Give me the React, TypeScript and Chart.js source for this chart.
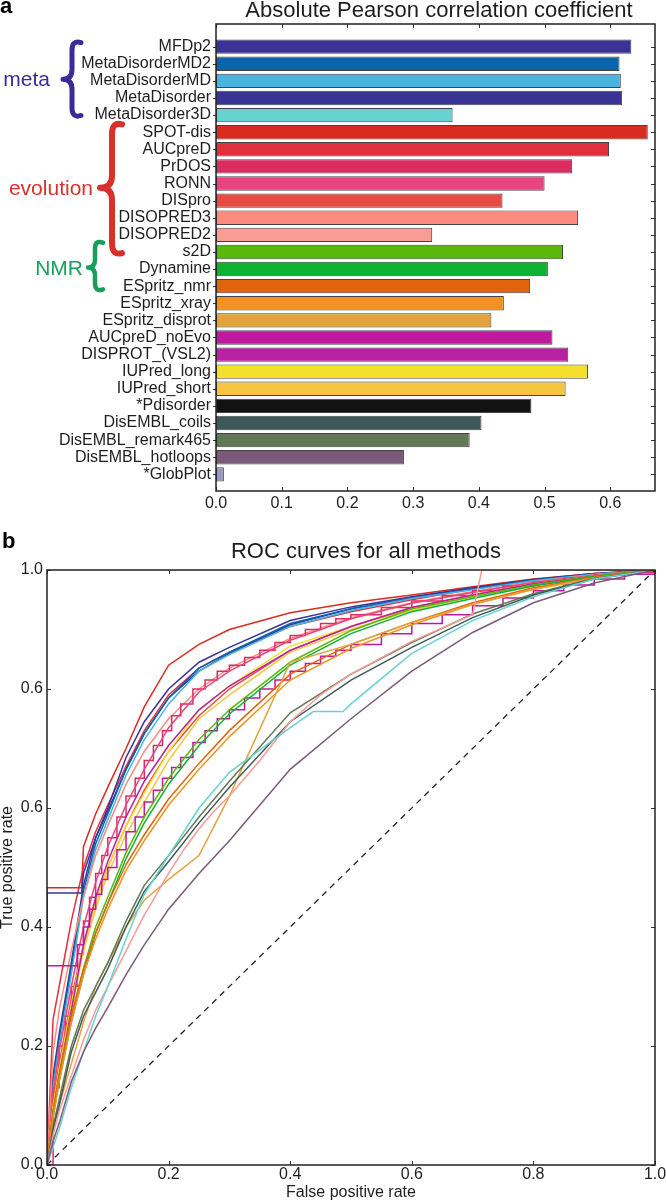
import React, { useEffect, useRef } from "react";
import { Chart, registerables } from "chart.js";

Chart.register(...registerables);

const FONT = "'Liberation Sans', Arial, Helvetica, sans-serif";
const TEXT = "#1e1e1e";

// ---------- Panel a: absolute Pearson correlation ----------
const methods = [
  "MFDp2", "MetaDisorderMD2", "MetaDisorderMD", "MetaDisorder", "MetaDisorder3D",
  "SPOT-dis", "AUCpreD", "PrDOS", "RONN", "DISpro", "DISOPRED3", "DISOPRED2",
  "s2D", "Dynamine", "ESpritz_nmr", "ESpritz_xray", "ESpritz_disprot",
  "AUCpreD_noEvo", "DISPROT_(VSL2)", "IUPred_long", "IUPred_short", "*Pdisorder",
  "DisEMBL_coils", "DisEMBL_remark465", "DisEMBL_hotloops", "*GlobPlot",
];
const pearson = [
  0.632, 0.614, 0.616, 0.618, 0.36, 0.657, 0.598, 0.542, 0.5, 0.436, 0.551, 0.329,
  0.528, 0.505, 0.478, 0.438, 0.419, 0.512, 0.536, 0.566, 0.532, 0.48, 0.404, 0.386,
  0.286, 0.012,
];
const methodColors = [
  "#3a3296", "#0a64ac", "#48b4e0", "#3a3396", "#68d2d0", "#d92b20", "#e0303c",
  "#db2c62", "#e6457e", "#e64c42", "#fd8b80", "#f89c96", "#5ab80c", "#0eb232",
  "#e2640e", "#f29220", "#e2a43a", "#c0189e", "#b821a0", "#f4e02c", "#f6c640",
  "#121212", "#3e5a58", "#627856", "#7a5a78", "#9898c0",
];
const pearsonTicks = [0, 0.1, 0.2, 0.3, 0.4, 0.5, 0.6];

// group annotations (in category units)
const groupNames = ["meta", "evolution", "NMR"];
const groupColors = ["#3a2b98", "#d8302a", "#17a05c"];
const groupFrom = [-0.35, 4.43, 11.34];
const groupTip = [1.9, 8.25, 12.91];
const groupTo = [4.14, 12.18, 14.3];

// ---------- Panel b: ROC curves ----------
const rocGrid = [0, 0.01, 0.02, 0.04, 0.06, 0.08, 0.1, 0.13, 0.16, 0.2, 0.25, 0.3, 0.4, 0.5, 0.6, 0.7, 0.8, 0.9, 1];
const rocStepGrid = [0, 0.01, 0.02, 0.03, 0.04, 0.05, 0.06, 0.07, 0.08, 0.09, 0.1, 0.115, 0.13, 0.145, 0.16, 0.175, 0.19, 0.205, 0.22, 0.24, 0.26, 0.28, 0.3, 0.325, 0.35, 0.375, 0.4, 0.425, 0.45, 0.475, 0.5, 0.55, 0.6, 0.65, 0.7, 0.75, 0.8, 0.85, 0.9, 0.95, 1];
const fprJump = [0, 0, 0.057, 0.06, 0.08, 0.1, 0.13, 0.16, 0.2, 0.25, 0.3, 0.4, 0.5, 0.6, 0.7, 0.8, 0.9, 1];

const tprSPOTdis = [0, 0.466, 0.466, 0.535, 0.59, 0.635, 0.7, 0.77, 0.84, 0.875, 0.9, 0.928, 0.945, 0.958, 0.972, 0.985, 0.994, 1];
const tprMetaDisorder = [0, 0.457, 0.457, 0.49, 0.55, 0.595, 0.665, 0.725, 0.785, 0.83, 0.86, 0.908, 0.935, 0.953, 0.968, 0.983, 0.993, 1];
const tprAUCpreD = [0, 0.245, 0.3, 0.41, 0.5, 0.56, 0.605, 0.67, 0.73, 0.79, 0.835, 0.862, 0.905, 0.93, 0.95, 0.968, 0.982, 0.993, 1];
const tprMFDp2 = [0, 0.15, 0.22, 0.34, 0.47, 0.55, 0.6, 0.685, 0.745, 0.8, 0.845, 0.87, 0.915, 0.938, 0.955, 0.97, 0.984, 0.994, 1];
const tprMD2 = [0, 0.14, 0.21, 0.33, 0.46, 0.54, 0.59, 0.665, 0.725, 0.785, 0.835, 0.862, 0.91, 0.935, 0.953, 0.968, 0.983, 0.993, 1];
const tprMD = [0, 0.13, 0.2, 0.32, 0.45, 0.53, 0.58, 0.655, 0.715, 0.775, 0.83, 0.858, 0.905, 0.932, 0.952, 0.967, 0.982, 0.993, 1];
const tprRONN = [0, 0.12, 0.19, 0.3, 0.4, 0.475, 0.535, 0.605, 0.665, 0.735, 0.795, 0.83, 0.882, 0.918, 0.944, 0.962, 0.979, 0.991, 1];
const tprDISOPRED3 = [0, 0.19, 0.26, 0.36, 0.45, 0.52, 0.57, 0.64, 0.695, 0.75, 0.8, 0.835, 0.885, 0.92, 0.945, 0.964, 0.98, 0.992, 1];
const tprDISpro = [0, 0.11, 0.17, 0.28, 0.37, 0.44, 0.5, 0.57, 0.63, 0.695, 0.755, 0.8, 0.865, 0.905, 0.937, 0.958, 0.977, 0.99, 1];
const tprIUPredLong = [0, 0.1, 0.16, 0.27, 0.37, 0.44, 0.5, 0.57, 0.625, 0.695, 0.765, 0.805, 0.872, 0.905, 0.935, 0.958, 0.977, 0.99, 1];
const tprIUPredShort = [0, 0.09, 0.15, 0.26, 0.36, 0.43, 0.49, 0.555, 0.61, 0.68, 0.75, 0.79, 0.862, 0.9, 0.932, 0.956, 0.976, 0.99, 1];
const tprVSL2 = [0, 0.09, 0.15, 0.26, 0.37, 0.45, 0.51, 0.585, 0.645, 0.705, 0.765, 0.805, 0.865, 0.905, 0.937, 0.958, 0.977, 0.99, 1];
const tprS2D = [0, 0.09, 0.15, 0.25, 0.33, 0.4, 0.45, 0.525, 0.585, 0.65, 0.715, 0.765, 0.845, 0.898, 0.935, 0.955, 0.975, 0.99, 1];
const tprDynamine = [0, 0.08, 0.14, 0.24, 0.32, 0.39, 0.44, 0.515, 0.575, 0.64, 0.705, 0.758, 0.84, 0.893, 0.93, 0.952, 0.973, 0.989, 1];
const tprEspNmr = [0, 0.09, 0.15, 0.25, 0.33, 0.39, 0.44, 0.505, 0.555, 0.615, 0.675, 0.73, 0.825, 0.875, 0.912, 0.945, 0.97, 0.988, 1];
const tprEspXray = [0, 0.08, 0.14, 0.24, 0.32, 0.38, 0.43, 0.495, 0.545, 0.605, 0.665, 0.72, 0.815, 0.868, 0.908, 0.942, 0.968, 0.987, 1];
const tprEspDisprot = [0, 0.06, 0.1, 0.17, 0.24, 0.3, 0.34, 0.4, 0.445, 0.48, 0.52, 0.62, 0.845, 0.875, 0.912, 0.942, 0.967, 0.986, 1];
const tprCoils = [0, 0.06, 0.1, 0.19, 0.25, 0.29, 0.33, 0.4, 0.46, 0.51, 0.575, 0.635, 0.745, 0.815, 0.87, 0.92, 0.958, 0.985, 1];
const tprRemark465 = [0, 0.065, 0.11, 0.2, 0.26, 0.3, 0.34, 0.41, 0.47, 0.52, 0.585, 0.645, 0.76, 0.825, 0.878, 0.926, 0.96, 0.986, 1];
const tprHotloops = [0, 0.04, 0.07, 0.14, 0.19, 0.23, 0.265, 0.32, 0.37, 0.43, 0.49, 0.545, 0.665, 0.75, 0.83, 0.895, 0.945, 0.978, 1];
const tprPrDOS = [0, 0.13, 0.2, 0.25, 0.3, 0.355, 0.41, 0.45, 0.49, 0.52, 0.55, 0.585, 0.62, 0.65, 0.68, 0.705, 0.73, 0.755, 0.775, 0.8, 0.815, 0.83, 0.84, 0.853, 0.865, 0.878, 0.89, 0.9, 0.91, 0.918, 0.925, 0.937, 0.948, 0.957, 0.965, 0.973, 0.98, 0.986, 0.992, 0.996, 1];
const fprNoEvo = [0, 0, 0.038, 0.05, 0.06, 0.07, 0.08, 0.09, 0.1, 0.115, 0.13, 0.145, 0.16, 0.175, 0.19, 0.205, 0.22, 0.24, 0.26, 0.28, 0.3, 0.325, 0.35, 0.375, 0.4, 0.425, 0.45, 0.475, 0.5, 0.55, 0.6, 0.65, 0.7, 0.75, 0.8, 0.85, 0.9, 0.95, 1];
const tprNoEvo = [0, 0.335, 0.335, 0.37, 0.4, 0.43, 0.455, 0.48, 0.5, 0.53, 0.56, 0.585, 0.61, 0.63, 0.65, 0.668, 0.685, 0.71, 0.73, 0.75, 0.765, 0.785, 0.8, 0.815, 0.83, 0.843, 0.855, 0.865, 0.875, 0.893, 0.91, 0.925, 0.94, 0.953, 0.965, 0.975, 0.985, 0.993, 1];
const fprDISOPRED2 = [0, 0.01, 0.02, 0.03, 0.04, 0.05, 0.06, 0.07, 0.08, 0.09, 0.1, 0.115, 0.13, 0.145, 0.16, 0.18, 0.2, 0.225, 0.25, 0.275, 0.3, 0.35, 0.4, 0.45, 0.5, 0.6, 0.7, 0.715, 1];
const tprDISOPRED2 = [0, 0.05, 0.09, 0.12, 0.15, 0.18, 0.21, 0.235, 0.26, 0.28, 0.3, 0.33, 0.36, 0.39, 0.42, 0.455, 0.49, 0.53, 0.565, 0.595, 0.62, 0.68, 0.745, 0.79, 0.825, 0.88, 0.925, 1, 1];
const fprMeta3D = [0, 0.01, 0.02, 0.04, 0.06, 0.08, 0.1, 0.13, 0.16, 0.2, 0.25, 0.3, 0.4, 0.438, 0.487, 0.5, 0.6, 0.7, 0.8, 0.9, 1];
const tprMeta3D = [0, 0.03, 0.06, 0.13, 0.19, 0.25, 0.3, 0.38, 0.455, 0.52, 0.6, 0.66, 0.735, 0.762, 0.762, 0.775, 0.86, 0.915, 0.955, 0.985, 1];
const diagonal = [0, 1];

const rocXTicks = [0, 0.2, 0.4, 0.6, 0.8, 1];
const rocYTicks = [0, 0.2, 0.4, 0.6, 0.8, 1];
const rocYTickLabels = ["0.0", "0.2", "0.4", "0.6", "0.6", "1.0"];

// drawing order (bottom first): name, fpr, tpr, stepped
const rocSeries: [string, number[], number[], boolean][] = [
  ["DisEMBL_hotloops", rocGrid, tprHotloops, false],
  ["MetaDisorder3D", fprMeta3D, tprMeta3D, false],
  ["DISOPRED2", fprDISOPRED2, tprDISOPRED2, false],
  ["DisEMBL_coils", rocGrid, tprCoils, false],
  ["DisEMBL_remark465", rocGrid, tprRemark465, false],
  ["ESpritz_disprot", rocGrid, tprEspDisprot, false],
  ["ESpritz_xray", rocGrid, tprEspXray, false],
  ["ESpritz_nmr", rocGrid, tprEspNmr, false],
  ["Dynamine", rocGrid, tprDynamine, false],
  ["s2D", rocGrid, tprS2D, false],
  ["AUCpreD_noEvo", fprNoEvo, tprNoEvo, true],
  ["DISPROT_(VSL2)", rocGrid, tprVSL2, false],
  ["IUPred_short", rocGrid, tprIUPredShort, false],
  ["IUPred_long", rocGrid, tprIUPredLong, false],
  ["DISpro", rocGrid, tprDISpro, false],
  ["RONN", rocGrid, tprRONN, false],
  ["PrDOS", rocStepGrid, tprPrDOS, true],
  ["DISOPRED3", rocGrid, tprDISOPRED3, false],
  ["MetaDisorderMD", rocGrid, tprMD, false],
  ["MetaDisorderMD2", rocGrid, tprMD2, false],
  ["MetaDisorder", fprJump, tprMetaDisorder, false],
  ["MFDp2", rocGrid, tprMFDp2, false],
  ["AUCpreD", rocGrid, tprAUCpreD, false],
  ["SPOT-dis", fprJump, tprSPOTdis, false],
];

function framePlugin(leftOutward: boolean) {
  return {
    id: "frameTicks",
    afterDraw(chart: any) {
      const { ctx, chartArea: a } = chart;
      const xs = chart.scales.x;
      const ys = chart.scales.y;
      ctx.save();
      ctx.strokeStyle = "#333";
      ctx.lineWidth = 1;
      ctx.beginPath();
      for (const t of xs.ticks) {
        const p = Math.round(xs.getPixelForValue(t.value)) + 0.5;
        ctx.moveTo(p, a.bottom);
        ctx.lineTo(p, a.bottom - 4);
        ctx.moveTo(p, a.top);
        ctx.lineTo(p, a.top + 4);
      }
      for (const t of ys.ticks) {
        const p = Math.round(ys.getPixelForValue(t.value)) + 0.5;
        if (leftOutward) {
          ctx.moveTo(a.left - 3, p);
          ctx.lineTo(a.left, p);
        } else {
          ctx.moveTo(a.left, p);
          ctx.lineTo(a.left + 4, p);
        }
        ctx.moveTo(a.right, p);
        ctx.lineTo(a.right - 4, p);
      }
      ctx.stroke();
      ctx.lineWidth = 1.5;
      ctx.strokeStyle = "#222";
      ctx.strokeRect(a.left, a.top, a.right - a.left, a.bottom - a.top);
      ctx.restore();
    },
  };
}

function drawBrace(ctx: CanvasRenderingContext2D, tipX: number, stemX: number, armX: number,
  top: number, mid: number, bot: number, c: number, lw: number, color: string) {
  ctx.save();
  ctx.strokeStyle = color;
  ctx.lineWidth = lw;
  ctx.lineCap = "round";
  ctx.lineJoin = "round";
  ctx.beginPath();
  ctx.moveTo(armX, top + 2);
  ctx.quadraticCurveTo(stemX, top - 1, stemX, top + c);
  ctx.lineTo(stemX, mid - c);
  ctx.quadraticCurveTo(stemX, mid, tipX, mid);
  ctx.quadraticCurveTo(stemX, mid, stemX, mid + c);
  ctx.lineTo(stemX, bot - c);
  ctx.quadraticCurveTo(stemX, bot + 1, armX, bot - 2);
  ctx.stroke();
  ctx.restore();
}

const braceGeom = [
  { tip: 63, stem: 72, arm: 81, c: 10, lw: 5, textRight: 50 },
  { tip: 100, stem: 112, arm: 122, c: 12, lw: 6, textRight: 93 },
  { tip: 88, stem: 95, arm: 103, c: 8, lw: 4.5, textRight: 83 },
];

const barAnnotations = {
  id: "barAnnotations",
  afterDraw(chart: any) {
    const ctx: CanvasRenderingContext2D = chart.ctx;
    const ys = chart.scales.y;
    ctx.save();
    ctx.fillStyle = "#000";
    ctx.font = `bold 22px ${FONT}`;
    ctx.textAlign = "left";
    ctx.textBaseline = "alphabetic";
    ctx.fillText("a", 0, 13);
    ctx.fillStyle = TEXT;
    ctx.font = `22px ${FONT}`;
    ctx.textAlign = "center";
    ctx.fillText("Absolute Pearson correlation coefficient", 439, 17);
    groupNames.forEach((name, i) => {
      const g = braceGeom[i];
      const top = ys.getPixelForValue(groupFrom[i]);
      const mid = ys.getPixelForValue(groupTip[i]);
      const bot = ys.getPixelForValue(groupTo[i]);
      drawBrace(ctx, g.tip, g.stem, g.arm, top, mid, bot, g.c, g.lw, groupColors[i]);
      ctx.fillStyle = groupColors[i];
      ctx.font = `21px ${FONT}`;
      ctx.textAlign = "right";
      ctx.fillText(name, g.textRight, mid + 7);
    });
    ctx.restore();
  },
};

const rocAnnotations = {
  id: "rocAnnotations",
  afterDraw(chart: any) {
    const ctx: CanvasRenderingContext2D = chart.ctx;
    ctx.save();
    ctx.fillStyle = "#000";
    ctx.font = `bold 22px ${FONT}`;
    ctx.textAlign = "left";
    ctx.textBaseline = "alphabetic";
    ctx.fillText("b", 2, 23);
    ctx.fillStyle = TEXT;
    ctx.font = `22px ${FONT}`;
    ctx.textAlign = "center";
    ctx.fillText("ROC curves for all methods", 366, 33);
    ctx.restore();
  },
};

export default function App() {
  const refA = useRef<HTMLCanvasElement>(null);
  const refB = useRef<HTMLCanvasElement>(null);

  useEffect(() => {
    const tickFont = { family: FONT, size: 16 };
    const noGrid = { display: false, drawTicks: false };

    const barChart = new Chart(refA.current as HTMLCanvasElement, {
      type: "bar",
      data: {
        datasets: [
          {
            data: pearson.map((v, i) => ({ x: v, y: i })),
            backgroundColor: methodColors,
            borderColor: "rgba(20,20,20,0.8)",
            borderWidth: 1,
            borderSkipped: false,
            barPercentage: 0.84,
            categoryPercentage: 1,
          } as any,
        ],
      },
      options: {
        indexAxis: "y",
        animation: false,
        responsive: false,
        devicePixelRatio: 1,
        layout: { padding: { left: 0, top: 24, right: 11, bottom: 0 } },
        plugins: { legend: { display: false }, tooltip: { enabled: false } },
        scales: {
          x: {
            type: "linear",
            position: "bottom",
            min: 0,
            max: 0.668,
            grid: noGrid,
            border: { display: false },
            afterBuildTicks: (s: any) => {
              s.ticks = pearsonTicks.map((v) => ({ value: v }));
            },
            afterFit: (s: any) => {
              s.height = 34;
              s.paddingLeft = 0;
              s.paddingRight = 0;
            },
            ticks: {
              padding: 3,
              color: TEXT,
              font: tickFont,
              maxRotation: 0,
              autoSkip: false,
              callback: (v: any) => Number(v).toFixed(1),
            },
          },
          y: {
            type: "linear",
            position: "left",
            reverse: true,
            min: -0.8,
            max: 25.45,
            grid: noGrid,
            border: { display: false },
            afterBuildTicks: (s: any) => {
              s.ticks = methods.map((_, i) => ({ value: i }));
            },
            afterFit: (s: any) => {
              s.width = 216;
            },
            ticks: {
              padding: 5,
              color: TEXT,
              font: tickFont,
              autoSkip: false,
              callback: (v: any) => methods[Math.round(Number(v))],
            },
          },
        },
      } as any,
      plugins: [framePlugin(true), barAnnotations],
    });

    const rocDatasets: any[] = rocSeries.map(([name, fpr, tpr, stepped]) => ({
      label: name,
      data: fpr.map((x, i) => ({ x, y: tpr[i] })),
      borderColor: methodColors[methods.indexOf(name)],
      backgroundColor: methodColors[methods.indexOf(name)],
      borderWidth: 1.5,
      showLine: true,
      pointRadius: 0,
      tension: 0,
      fill: false,
      stepped: stepped ? "before" : false,
    }));
    rocDatasets.push({
      label: "random",
      data: diagonal.map((v) => ({ x: v, y: v })),
      borderColor: "#222",
      borderWidth: 1.3,
      borderDash: [6, 5],
      showLine: true,
      pointRadius: 0,
      fill: false,
    });

    const rocChart = new Chart(refB.current as HTMLCanvasElement, {
      type: "scatter",
      data: { datasets: rocDatasets },
      options: {
        animation: false,
        responsive: false,
        devicePixelRatio: 1,
        layout: { padding: { left: 0, top: 45, right: 11, bottom: 0 } },
        plugins: { legend: { display: false }, tooltip: { enabled: false } },
        scales: {
          x: {
            type: "linear",
            min: 0,
            max: 1,
            grid: noGrid,
            border: { display: false },
            afterBuildTicks: (s: any) => {
              s.ticks = rocXTicks.map((v) => ({ value: v }));
            },
            afterFit: (s: any) => {
              s.height = 38;
              s.paddingLeft = 0;
              s.paddingRight = 0;
            },
            ticks: {
              padding: 0,
              color: TEXT,
              font: tickFont,
              maxRotation: 0,
              autoSkip: false,
              callback: (v: any) => Number(v).toFixed(1),
            },
            title: {
              display: true,
              text: "False positive rate",
              color: TEXT,
              font: { family: FONT, size: 16, lineHeight: 1 },
              padding: { top: 0, bottom: 2 },
            },
          },
          y: {
            type: "linear",
            min: 0,
            max: 1,
            grid: noGrid,
            border: { display: false },
            afterBuildTicks: (s: any) => {
              s.ticks = rocYTicks.map((v) => ({ value: v }));
            },
            afterFit: (s: any) => {
              s.width = 47;
            },
            ticks: {
              padding: 4,
              color: TEXT,
              font: tickFont,
              autoSkip: false,
              callback: (_v: any, i: number) => rocYTickLabels[i],
            },
            title: {
              display: true,
              text: "True positive rate",
              color: TEXT,
              font: { family: FONT, size: 16, lineHeight: 1 },
              padding: { top: 0, bottom: 0 },
            },
          },
        },
      } as any,
      plugins: [framePlugin(false), rocAnnotations],
    });

    return () => {
      barChart.destroy();
      rocChart.destroy();
    };
  }, []);

  return (
    <div style={{ position: "absolute", left: 0, top: 0, width: 666, height: 1203, background: "#fff" }}>
      <canvas ref={refA} width={666} height={525} style={{ position: "absolute", left: 0, top: 0 }} />
      <canvas ref={refB} width={666} height={678} style={{ position: "absolute", left: 0, top: 525 }} />
    </div>
  );
}
